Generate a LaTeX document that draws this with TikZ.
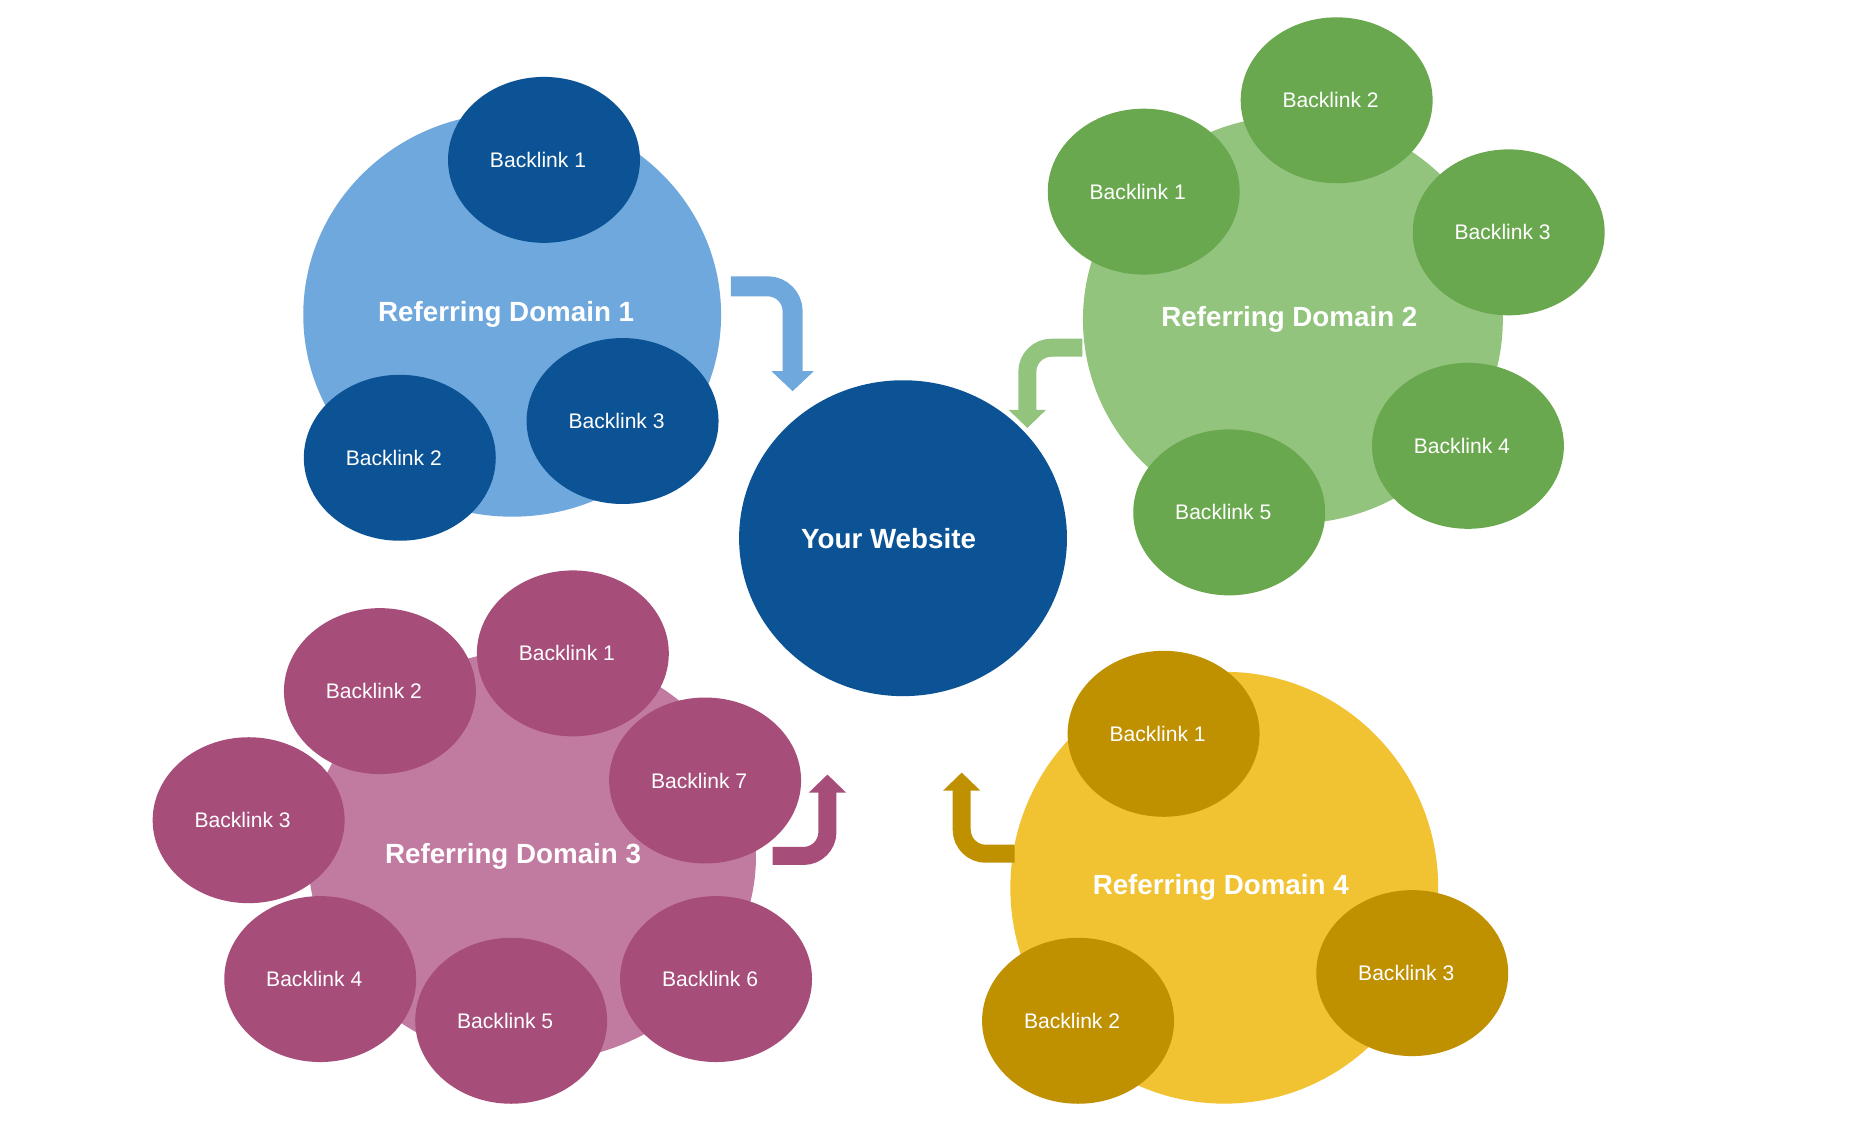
\documentclass[tikz,border=0pt]{standalone}
\usepackage{fontspec}
\setmainfont{Liberation Sans}
\usetikzlibrary{shapes.geometric,arrows.meta}

\definecolor{blueL}{HTML}{6FA8DC}
\definecolor{blueD}{HTML}{0B5394}
\definecolor{greenL}{HTML}{93C47D}
\definecolor{greenD}{HTML}{6AA84F}
\definecolor{pinkL}{HTML}{C27BA0}
\definecolor{pinkD}{HTML}{A64D79}
\definecolor{yellowL}{HTML}{F1C232}
\definecolor{yellowD}{HTML}{BF9000}

\begin{document}
\begin{tikzpicture}[x=0.009945cm,y=-0.00994cm,
        refdomain/.style={ellipse,inner sep=0pt,text=white,font=\bfseries\fontsize{7.9}{9}\selectfont},
        backlink/.style={ellipse,inner sep=0pt,minimum width=1.92cm,minimum height=1.66cm,
            text=white,font=\fontsize{6}{7}\selectfont,execute at begin node=\kern-1.2mm},
        flowarrow/.style={line width=0.18cm,rounded corners=0.24cm,
            -{Triangle[width=0.36cm,length=0.18cm]}},
        bigflow/.style={line width=0.2cm,rounded corners=0.25cm,
            -{Triangle[width=0.41cm,length=0.2cm]}}]
    \useasboundingbox[fill=white] (0,0) rectangle (1880.3,1152.9);

    \node[refdomain,fill=blueD,minimum width=3.28cm,minimum height=3.16cm] (web) at (908,542) {\kern-2.9mm Your Website};

    % domain 1
    \node[refdomain,fill=blueL,minimum width=4.18cm,minimum height=4.04cm] (d1) at (515,317) {\kern-1.2mm Referring Domain 1};
    \node[backlink,fill=blueD] (d1b1) at (547,161) {Backlink 1};
    \node[backlink,fill=blueD] (d1b2) at (402,461) {Backlink 2};
    \node[backlink,fill=blueD] (d1b3) at (626,424) {Backlink 3};

    % domain 2
    \node[refdomain,fill=greenL,minimum width=4.20cm,minimum height=4.08cm] (d2) at (1300,322) {\kern-0.7mm Referring Domain 2};
    \node[backlink,fill=greenD] (d2b1) at (1150,193) {Backlink 1};
    \node[backlink,fill=greenD] (d2b2) at (1344,101) {Backlink 2};
    \node[backlink,fill=greenD] (d2b3) at (1517,234) {Backlink 3};
    \node[backlink,fill=greenD] (d2b4) at (1476,449) {Backlink 4};
    \node[backlink,fill=greenD] (d2b5) at (1236,516) {Backlink 5};

    % domain 3
    \node[refdomain,fill=pinkL,minimum width=4.48cm,minimum height=4.12cm] (d3) at (535,862) {\kern-3.8mm Referring Domain 3};
    \node[backlink,fill=pinkD] (d3b1) at (576,658) {Backlink 1};
    \node[backlink,fill=pinkD] (d3b2) at (382,696) {Backlink 2};
    \node[backlink,fill=pinkD] (d3b3) at (250,826) {Backlink 3};
    \node[backlink,fill=pinkD] (d3b4) at (322,986) {Backlink 4};
    \node[backlink,fill=pinkD] (d3b5) at (514,1028) {Backlink 5};
    \node[backlink,fill=pinkD] (d3b6) at (720,986) {Backlink 6};
    \node[backlink,fill=pinkD] (d3b7) at (709,786) {Backlink 7};

    % domain 4
    \node[refdomain,fill=yellowL,minimum width=4.28cm,minimum height=4.32cm] (d4) at (1231,894) {\kern-0.7mm Referring Domain 4};
    \node[backlink,fill=yellowD] (d4b1) at (1170,739) {Backlink 1};
    \node[backlink,fill=yellowD] (d4b2) at (1084,1028) {Backlink 2};
    \node[backlink,fill=yellowD] (d4b3) at (1420,980) {Backlink 3};

    % arrows towards the website
    \coordinate (t1) at (797,394);
    \coordinate (t2) at (1033,431);
    \coordinate (t3) at (832,780);
    \coordinate (t4) at (967,778);
    \draw[bigflow,blueL] ([xshift=0.09cm,yshift=0.285cm]d1.east) -| (t1);
    \draw[flowarrow,greenL] ([yshift=-0.28cm]d2.west) -| (t2);
    \draw[flowarrow,pinkD] ([xshift=0.16cm]d3.east) -| (t3);
    \draw[flowarrow,yellowD] ([xshift=0.05cm,yshift=0.34cm]d4.west) -| (t4);
\end{tikzpicture}
\end{document}
